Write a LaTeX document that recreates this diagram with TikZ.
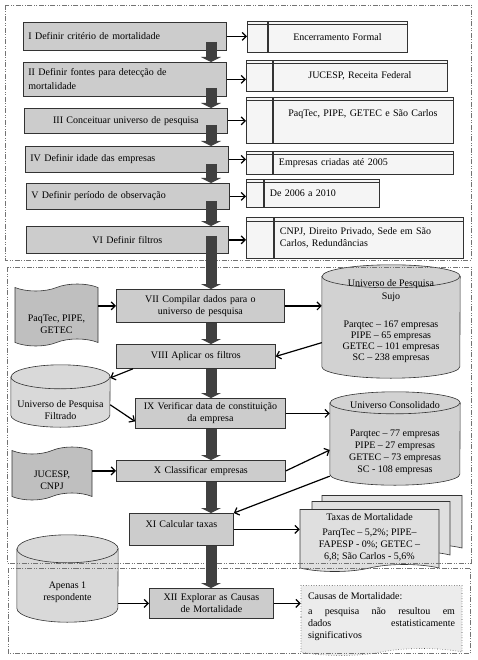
\documentclass[tikz,border=0pt]{standalone}
\usepackage{fontspec}
\setmainfont{Liberation Serif}
\usetikzlibrary{arrows.meta,positioning,calc,backgrounds,shapes.symbols}

\tikzset{
  stepbox/.style={draw=black!80, fill=gray!40, line width=.8pt, anchor=north west,
    inner xsep=5pt, inner ysep=2pt},
  tabcol/.style={draw=black!80, fill=gray!8, line width=.6pt, anchor=north west, inner sep=0pt,
    path picture={\draw[black!80, line width=.6pt]
      ([yshift=-3.5pt]path picture bounding box.north west) --
      ([yshift=-3.5pt]path picture bounding box.north east);}},
  tabbox/.style={tabcol, inner xsep=6pt, inner ysep=2pt},
  datacyl/.style={rectangle, inner sep=0pt, align=center},
  datatape/.style={tape, tape bend top=in and out, tape bend bottom=in and out,
    tape bend height=7pt, draw=black!80, fill=gray!50, line width=.6pt},
  docpage/.style={tape, tape bend top=none, tape bend bottom=in and out,
    tape bend height=7pt, draw=black!80, fill=gray!25, line width=.6pt},
  thinarr/.style={-{Straight Barb[length=4pt,width=8pt]}, line width=1.2pt},
  blockarr/.style={-{Triangle[length=5pt,width=20pt]}, line width=11pt, draw=black!75},
  phase/.style={draw=black!55, line width=.6pt,
    dash pattern=on 5pt off 1.5pt on 1pt off 1.5pt on 1pt off 1.5pt}
}

% cylinder behind a datacyl node: node, x radius, y radius, fill
\newcommand\cylbody[4]{%
  \begin{scope}[on background layer]
    \filldraw[fill=#4, draw=black!80, line width=.6pt]
      ([yshift=-#3]#1.north west) -- ([yshift=#3]#1.south west)
      arc[start angle=180, end angle=360, x radius=#2, y radius=#3]
      -- ([yshift=-#3]#1.north east)
      arc[start angle=0, end angle=180, x radius=#2, y radius=#3] -- cycle;
    \draw[black!80, line width=.6pt] ([yshift=-#3]#1.north west)
      arc[start angle=180, end angle=360, x radius=#2, y radius=#3];
  \end{scope}}

\begin{document}
\begin{tikzpicture}[x=1pt, y=-1pt, font=\fontsize{10}{12}\selectfont]
  \useasboundingbox (0,0) rectangle (478,660);
  \coordinate (spine) at (211,0);

  % Steps I to VI
  \node[stepbox, text width=193pt, minimum height=28pt, align=left] (b1) at (23,22) {I Definir critério de mortalidade};
  \node[stepbox, text width=193pt, minimum height=34pt, align=left] (b2) at (23,62) {II Definir fontes para detecção de\\[2pt]mortalidade};
  \node[stepbox, text width=193pt, minimum height=25pt, align=center] (b3) at (24,108) {III Conceituar universo de pesquisa};
  \node[stepbox, text width=193pt, minimum height=26pt, align=left] (b4) at (25,146) {IV Definir idade das empresas};
  \node[stepbox, text width=193pt, minimum height=26pt, align=left] (b5) at (26,183) {V Definir período de observação};
  \node[stepbox, text width=192pt, minimum height=27pt, align=center] (b6) at (26,226) {VI Definir filtros};

  % Answers of steps I to VI
  \node[tabcol, minimum width=20pt, minimum height=31pt] (r1c) at (247,21) {};
  \node[tabbox, right=0pt of r1c, text width=127pt, minimum height=31pt, align=center] (r1) {Encerramento Formal};
  \node[tabcol, minimum width=26pt, minimum height=31pt] (r2c) at (246,60) {};
  \node[tabbox, right=0pt of r2c, text width=162pt, minimum height=31pt, align=center] (r2) {JUCESP, Receita Federal};
  \node[tabcol, minimum width=26pt, minimum height=46pt] (r3c) at (246,97) {};
  \node[tabbox, right=0pt of r3c, text width=168pt, minimum height=46pt, align=center, text depth=14.5pt] (r3) {PaqTec, PIPE, GETEC e São Carlos};
  \node[tabcol, minimum width=26pt, minimum height=23pt] (r4c) at (246,151) {};
  \node[tabbox, right=0pt of r4c, text width=168pt, minimum height=23pt, align=left] (r4) {Empresas criadas até 2005};
  \node[tabcol, minimum width=17pt, minimum height=28pt] (r5c) at (246,179) {};
  \node[tabbox, right=0pt of r5c, text width=103pt, minimum height=28pt, align=left] (r5) {De 2006 a 2010};
  \node[tabcol, minimum width=27pt, minimum height=41pt] (r6c) at (246,217) {};
  \node[tabbox, right=0pt of r6c, text width=177pt, minimum height=41pt, align=left] (r6) {CNPJ, Direito Privado, Sede em São\\Carlos, Redundâncias};

  \draw[thinarr] (b1.east) -- (b1.east -| r1c.west);
  \draw[thinarr] (b2.east) -- (b2.east -| r2c.west);
  \draw[thinarr] (b3.east) -- (b3.east -| r3c.west);
  \draw[thinarr] (b4.east) -- (b4.east -| r4c.west);
  \draw[thinarr] (b5.east) -- (b5.east -| r5c.west);
  \draw[thinarr] (b6.east) -- (b6.east -| r6c.west);

  % Steps VII to XI
  \node[stepbox, text width=158pt, minimum height=33pt, align=center] (b7) at (116,289) {VII Compilar dados para o\\universo de pesquisa};
  \node[stepbox, text width=149pt, minimum height=24pt, align=center] (b8) at (116,344) {VIII Aplicar os filtros};
  \node[stepbox, inner xsep=2pt, text width=146pt, minimum height=30pt, align=center] (b9) at (135,398) {IX Verificar data de constituição\\da empresa};
  \node[stepbox, text width=159pt, minimum height=21pt, align=center] (b10) at (116,460) {X Classificar empresas};
  \node[stepbox, text width=94pt, minimum height=32pt, align=center, text depth=11.5pt] (b11) at (129,513) {XI Calcular taxas};

  % Sources and data bases
  \node[datatape, minimum width=83pt, minimum height=62pt,
    label={[align=center, yshift=-9pt]center:{PaqTec, PIPE,\\GETEC}}] (src1) at (56.5,315) {};
  \node[datatape, minimum width=80pt, minimum height=53pt,
    label={[align=center, yshift=-7pt]center:{JUCESP,\\CNPJ}}] (src2) at (52,473.5) {};
  \node[datacyl, minimum width=138pt, minimum height=113pt, font=\fontsize{10}{11}\selectfont] (sujo) at (391,321.5)
    {Universo de Pesquisa\\[2pt]Sujo\\[17pt]Parqtec – 167 empresas\\PIPE – 65 empresas\\GETEC – 101 empresas\\SC – 238 empresas};
  \cylbody{sujo}{69pt}{11.5pt}{gray!35}
  \node[datacyl, minimum width=99pt, minimum height=62pt,
    label={[align=center, yshift=-14pt]center:{Universo de Pesquisa\\Filtrado}}] (filt) at (60.5,396) {};
  \cylbody{filt}{49.5pt}{12pt}{gray!30}
  \node[datacyl, minimum width=130pt, minimum height=93pt] (cons) at (395,438.5)
    {Universo Consolidado\\[16pt]Parqtec – 77 empresas\\PIPE – 27 empresas\\GETEC – 73 empresas\\SC - 108 empresas};
  \cylbody{cons}{65pt}{11pt}{gray!35}

  % Mortality rates
  \node[docpage, minimum width=140pt, minimum height=56pt] (taxas3) at (392,520) {};
  \node[docpage, minimum width=138pt, minimum height=57pt] (taxas2) at (381,526.5) {};
  \node[docpage, minimum width=139pt, minimum height=62pt, align=center] (taxas) at (369.5,537)
    {Taxas de Mortalidade\\[3pt]ParqTec – 5,2\%; PIPE–\\FAPESP - 0\%; GETEC –\\6,8; São Carlos - 5,6\%};

  \draw[thinarr] (src1.east |- b7.west) -- (b7.west);
  \draw[thinarr] (b7.east) -- (b7.east -| sujo.west);
  \draw[thinarr] (sujo.197) -- (b8.east);
  \draw[thinarr] ([xshift=17pt]b8.south west) -- (filt.20);
  \draw[thinarr] (filt.350) -- ([yshift=-8pt]b9.west);
  \draw[thinarr] (b9.east) -- (b9.east -| cons.west);
  \draw[thinarr] (src2.east |- b10.west) -- (b10.west);
  \draw[thinarr] (b10.east) -- (cons.190);
  \draw[thinarr] (cons.210) -- (b11.north east);
  \draw[thinarr] (b11.east) -- (b11.east -| taxas.west);

  % Step XII
  \node[stepbox, text width=114pt, minimum height=30pt, align=center] (b12) at (149,588) {XII Explorar as Causas\\de Mortalidade};
  \node[datacyl, minimum width=101pt, minimum height=87pt,
    label={[align=center, yshift=-14pt]center:{Apenas 1\\respondente}}] (apenas) at (67.5,578.5) {};
  \cylbody{apenas}{50.5pt}{14pt}{gray!30}
  \node[docpage, fill=gray!15, draw=black!70, dotted, minimum width=161pt, minimum height=70pt,
    text width=147pt, align=justify] (causas) at (381.5,617)
    {Causas de Mortalidade:\\[3pt]a pesquisa não resultou em\linebreak dados estatisticamente\linebreak significativos};

  \draw[thinarr] (apenas.east |- b12.west) -- (b12.west);
  \draw[thinarr] (b12.east) -- (b12.east -| causas.west);

  % Phase frames
  \draw[phase] (5,5) rectangle (471,260);
  \draw[phase] (7,267) rectangle (471,563);
  \draw[phase] (8,568) rectangle (470,653);

  % Main sequence
  \draw[blockarr] ($(b1.south -| spine)-(0,9)$) -- (b2.north -| spine);
  \draw[blockarr] ($(b2.south -| spine)-(0,9)$) -- (b3.north -| spine);
  \draw[blockarr] ($(b3.south -| spine)-(0,9)$) -- (b4.north -| spine);
  \draw[blockarr] ($(b4.south -| spine)-(0,9)$) -- (b5.north -| spine);
  \draw[blockarr] ($(b5.south -| spine)-(0,9)$) -- (b6.north -| spine);
  \draw[blockarr] ($(b6.south -| spine)-(0,18)$) -- (b7.north -| spine);
  \draw[blockarr] (b7.south -| spine) -- (b8.north -| spine);
  \draw[blockarr] (b8.south -| spine) -- (b9.north -| spine);
  \draw[blockarr] (b9.south -| spine) -- (b10.north -| spine);
  \draw[blockarr] (b10.south -| spine) -- (b11.north -| spine);
  \draw[blockarr] (b11.south -| spine) -- (b12.north -| spine);
\end{tikzpicture}
\end{document}
